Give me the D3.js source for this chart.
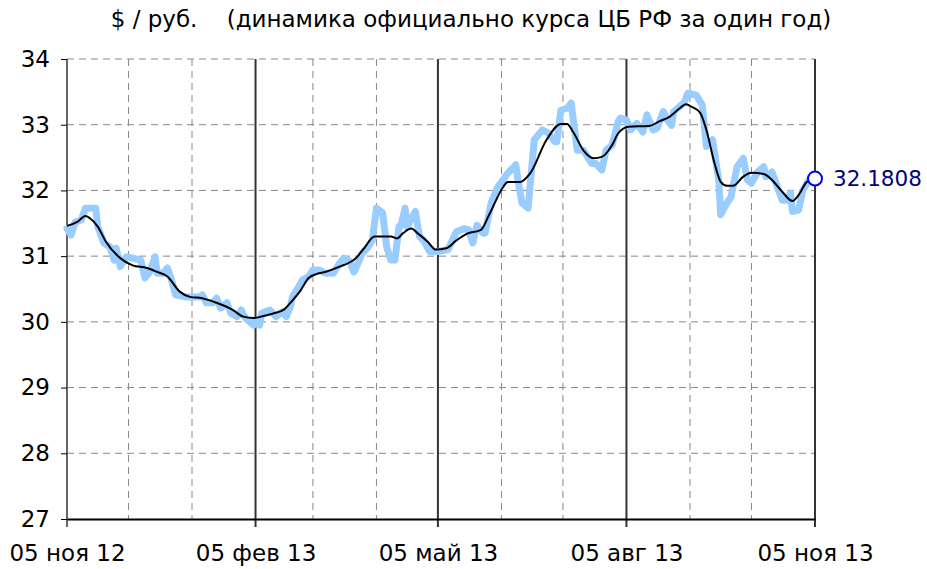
<!DOCTYPE html>
<html>
<head>
    <meta charset="utf-8">
    <style>
        body { margin: 0; background: #fff; }
        text { font-family: "DejaVu Sans", Verdana, sans-serif; }
        .grid line { stroke: #888; stroke-width: 1; stroke-dasharray: 7,5; }
    </style>
</head>
<body>
    <div id="container"></div>
    <script src="https://d3js.org/d3.v7.min.js"></script>
    <script>
        // daily rate
        const rate = [
            ["2012-11-05", 31.42], ["2012-11-07", 31.32], ["2012-11-09", 31.52], ["2012-11-12", 31.55],
            ["2012-11-14", 31.73], ["2012-11-19", 31.73], ["2012-11-20", 31.45], ["2012-11-23", 31.20],
            ["2012-11-26", 31.14], ["2012-11-28", 30.94], ["2012-11-29", 31.12], ["2012-12-01", 30.84],
            ["2012-12-04", 30.99], ["2012-12-07", 30.97], ["2012-12-11", 30.94], ["2012-12-13", 30.67],
            ["2012-12-15", 30.74], ["2012-12-18", 30.99], ["2012-12-19", 30.74], ["2012-12-22", 30.74],
            ["2012-12-24", 30.82], ["2012-12-26", 30.64], ["2012-12-28", 30.41], ["2013-01-02", 30.38],
            ["2013-01-09", 30.38], ["2013-01-10", 30.41], ["2013-01-12", 30.29], ["2013-01-15", 30.29],
            ["2013-01-17", 30.36], ["2013-01-19", 30.21], ["2013-01-22", 30.29], ["2013-01-24", 30.13],
            ["2013-01-27", 30.08], ["2013-01-29", 30.18], ["2013-01-31", 30.06], ["2013-02-04", 29.95],
            ["2013-02-05", 30.02], ["2013-02-07", 29.95], ["2013-02-08", 30.13], ["2013-02-12", 30.18],
            ["2013-02-15", 30.08], ["2013-02-18", 30.15], ["2013-02-20", 30.08], ["2013-02-22", 30.23],
            ["2013-02-23", 30.38], ["2013-02-26", 30.53], ["2013-02-28", 30.64], ["2013-03-03", 30.69],
            ["2013-03-05", 30.79], ["2013-03-08", 30.79], ["2013-03-11", 30.74], ["2013-03-15", 30.74],
            ["2013-03-18", 30.89], ["2013-03-20", 30.97], ["2013-03-23", 30.92], ["2013-03-25", 30.76],
            ["2013-03-27", 30.89], ["2013-03-29", 31.04], ["2013-04-01", 31.14], ["2013-04-03", 31.24],
            ["2013-04-05", 31.73], ["2013-04-08", 31.66], ["2013-04-10", 31.14], ["2013-04-12", 30.94],
            ["2013-04-14", 30.94], ["2013-04-16", 31.45], ["2013-04-17", 31.47], ["2013-04-19", 31.73],
            ["2013-04-20", 31.45], ["2013-04-24", 31.68], ["2013-04-26", 31.30], ["2013-04-28", 31.24],
            ["2013-05-01", 31.07], ["2013-05-05", 31.07], ["2013-05-10", 31.10], ["2013-05-14", 31.37],
            ["2013-05-18", 31.42], ["2013-05-20", 31.40], ["2013-05-22", 31.20], ["2013-05-24", 31.47],
            ["2013-05-27", 31.35], ["2013-05-28", 31.35], ["2013-05-31", 31.81], ["2013-06-03", 32.04],
            ["2013-06-08", 32.26], ["2013-06-12", 32.39], ["2013-06-13", 32.16], ["2013-06-15", 31.81],
            ["2013-06-18", 31.73], ["2013-06-21", 32.77], ["2013-06-25", 32.92], ["2013-06-28", 32.87],
            ["2013-07-01", 32.74], ["2013-07-02", 32.74], ["2013-07-04", 33.22], ["2013-07-07", 33.25],
            ["2013-07-09", 33.33], ["2013-07-12", 32.61], ["2013-07-15", 32.61], ["2013-07-19", 32.41],
            ["2013-07-21", 32.41], ["2013-07-24", 32.31], ["2013-07-26", 32.61], ["2013-07-29", 32.69],
            ["2013-08-01", 33.05], ["2013-08-02", 33.10], ["2013-08-05", 33.07], ["2013-08-07", 32.92],
            ["2013-08-10", 33.02], ["2013-08-13", 32.89], ["2013-08-15", 33.15], ["2013-08-18", 32.92],
            ["2013-08-20", 32.95], ["2013-08-23", 33.20], ["2013-08-25", 33.07], ["2013-08-27", 32.99],
            ["2013-08-28", 33.20], ["2013-09-02", 33.33], ["2013-09-04", 33.48], ["2013-09-08", 33.45],
            ["2013-09-11", 33.30], ["2013-09-13", 32.67], ["2013-09-16", 32.77], ["2013-09-19", 32.16],
            ["2013-09-20", 31.63], ["2013-09-23", 31.81], ["2013-09-25", 31.90], ["2013-09-28", 32.36],
            ["2013-10-01", 32.49], ["2013-10-03", 32.16], ["2013-10-05", 32.11], ["2013-10-08", 32.28],
            ["2013-10-11", 32.36], ["2013-10-12", 32.21], ["2013-10-15", 32.28], ["2013-10-17", 32.11],
            ["2013-10-20", 31.85], ["2013-10-22", 31.85], ["2013-10-24", 31.96], ["2013-10-25", 31.68],
            ["2013-10-28", 31.70], ["2013-10-30", 32.00], ["2013-11-02", 32.16], ["2013-11-05", 32.1808]
        ];

        // smoothed line (black)
        const trend = [
            ["2012-11-05", 31.46], ["2012-11-10", 31.52], ["2012-11-14", 31.61], ["2012-11-16", 31.58],
            ["2012-11-20", 31.45], ["2012-11-24", 31.22], ["2012-12-01", 30.97], ["2012-12-07", 30.86],
            ["2012-12-14", 30.82], ["2012-12-19", 30.76], ["2012-12-24", 30.69], ["2012-12-30", 30.46],
            ["2013-01-04", 30.38], ["2013-01-10", 30.36], ["2013-01-17", 30.29], ["2013-01-25", 30.18],
            ["2013-01-30", 30.08], ["2013-02-04", 30.06], ["2013-02-09", 30.09], ["2013-02-14", 30.13],
            ["2013-02-19", 30.19], ["2013-02-22", 30.29], ["2013-02-27", 30.48], ["2013-03-03", 30.67],
            ["2013-03-07", 30.73], ["2013-03-11", 30.76], ["2013-03-18", 30.84], ["2013-03-26", 30.97],
            ["2013-03-30", 31.12], ["2013-04-04", 31.30], ["2013-04-12", 31.30], ["2013-04-15", 31.27],
            ["2013-04-18", 31.35], ["2013-04-22", 31.42], ["2013-04-25", 31.35], ["2013-04-30", 31.22],
            ["2013-05-04", 31.10], ["2013-05-09", 31.12], ["2013-05-14", 31.24], ["2013-05-19", 31.34],
            ["2013-05-26", 31.40], ["2013-05-30", 31.63], ["2013-06-06", 32.06], ["2013-06-08", 32.13],
            ["2013-06-14", 32.13], ["2013-06-19", 32.26], ["2013-06-27", 32.77], ["2013-07-04", 33.01],
            ["2013-07-07", 33.01], ["2013-07-10", 32.89], ["2013-07-15", 32.61], ["2013-07-20", 32.49],
            ["2013-07-24", 32.51], ["2013-07-29", 32.69], ["2013-08-01", 32.87], ["2013-08-06", 32.97],
            ["2013-08-16", 32.98], ["2013-08-21", 33.05], ["2013-08-26", 33.12], ["2013-08-31", 33.25],
            ["2013-09-03", 33.31], ["2013-09-06", 33.27], ["2013-09-10", 33.18], ["2013-09-13", 32.92],
            ["2013-09-17", 32.41], ["2013-09-20", 32.13], ["2013-09-23", 32.07], ["2013-09-26", 32.07],
            ["2013-10-01", 32.21], ["2013-10-05", 32.27], ["2013-10-11", 32.25], ["2013-10-15", 32.16],
            ["2013-10-20", 31.98], ["2013-10-25", 31.84], ["2013-10-28", 31.93], ["2013-11-01", 32.13],
            ["2013-11-05", 32.18]
        ];

        const yTicks = [27, 28, 29, 30, 31, 32, 33, 34];
        const majorDates = ["2012-11-05", "2013-02-05", "2013-05-05", "2013-08-05", "2013-11-05"];
        const minorDates = ["2012-12-05", "2013-01-05", "2013-03-05", "2013-04-05",
                            "2013-06-05", "2013-07-05", "2013-09-05", "2013-10-05"];
        const monthNames = ["янв", "фев", "мар", "апр", "май", "июн", "июл", "авг", "сен", "окт", "ноя", "дек"];
        const title = "$ / руб.    (динамика официально курса ЦБ РФ за один год)";

        const width = 927, height = 569;
        const margin = { top: 59, right: 112, bottom: 50, left: 67 };
        const fontSize = 23;
        const parse = d3.timeParse("%Y-%m-%d");

        const x = d3.scaleTime()
            .domain([parse(majorDates[0]), parse(majorDates[majorDates.length - 1])])
            .range([margin.left, width - margin.right]);
        const y = d3.scaleLinear()
            .domain([27, 34])
            .range([height - margin.bottom, margin.top]);

        const svg = d3.select("#container").append("svg")
            .attr("width", width)
            .attr("height", height);

        svg.append("text")
            .attr("x", 471)
            .attr("y", 27)
            .attr("text-anchor", "middle")
            .attr("font-size", fontSize)
            .attr("fill", "#000")
            .style("white-space", "pre")
            .text(title);

        // dashed grid
        const grid = svg.append("g").attr("class", "grid");
        grid.selectAll("line.h")
            .data(yTicks.slice(1))
            .join("line")
            .attr("class", "h")
            .attr("x1", margin.left).attr("x2", width - margin.right)
            .attr("y1", d => y(d)).attr("y2", d => y(d));
        grid.selectAll("line.v")
            .data(minorDates)
            .join("line")
            .attr("class", "v")
            .attr("x1", d => x(parse(d))).attr("x2", d => x(parse(d)))
            .attr("y1", margin.top).attr("y2", height - margin.bottom);

        // solid quarter lines
        svg.append("g").selectAll("line")
            .data(majorDates)
            .join("line")
            .attr("x1", d => x(parse(d))).attr("x2", d => x(parse(d)))
            .attr("y1", margin.top).attr("y2", height - margin.bottom + 8)
            .attr("stroke", (d, i) => i === 0 ? "#666" : "#333")
            .attr("stroke-width", 2);

        // y axis
        const yAxis = svg.append("g")
            .attr("transform", `translate(${margin.left},0)`)
            .call(d3.axisLeft(y).tickValues(yTicks).tickSize(6).tickPadding(11).tickFormat(d3.format("d")));
        yAxis.select(".domain").remove();
        yAxis.selectAll(".tick line").attr("stroke", "#000");
        yAxis.selectAll(".tick text")
            .attr("font-size", fontSize)
            .attr("font-family", "DejaVu Sans, Verdana, sans-serif")
            .attr("fill", "#000");

        // x axis
        const xAxis = svg.append("g")
            .attr("transform", `translate(0,${height - margin.bottom})`)
            .call(d3.axisBottom(x)
                .tickValues(majorDates.map(parse))
                .tickSize(0)
                .tickPadding(26)
                .tickFormat(d => d3.timeFormat("%d")(d) + " " + monthNames[d.getMonth()] + " " + d3.timeFormat("%y")(d)));
        xAxis.select(".domain").attr("stroke", "#000").attr("stroke-width", 2);
        xAxis.selectAll(".tick text")
            .attr("font-size", fontSize)
            .attr("font-family", "DejaVu Sans, Verdana, sans-serif")
            .attr("fill", "#000");

        const line = d3.line()
            .x(d => x(parse(d[0])))
            .y(d => y(d[1]));

        svg.append("path")
            .datum(rate)
            .attr("fill", "none")
            .attr("stroke", "#99ccff")
            .attr("stroke-width", 7)
            .attr("stroke-linejoin", "round")
            .attr("stroke-linecap", "round")
            .attr("d", line);

        svg.append("path")
            .datum(trend)
            .attr("fill", "none")
            .attr("stroke", "#000")
            .attr("stroke-width", 2)
            .attr("stroke-linejoin", "round")
            .attr("d", line.curve(d3.curveMonotoneX));

        const last = rate[rate.length - 1];
        svg.append("circle")
            .attr("cx", x(parse(last[0])))
            .attr("cy", y(last[1]))
            .attr("r", 7)
            .attr("fill", "#fff")
            .attr("stroke", "#0000ff")
            .attr("stroke-width", 2);

        svg.append("text")
            .attr("x", x(parse(last[0])) + 18)
            .attr("y", y(last[1]))
            .attr("dy", "0.35em")
            .attr("font-size", 21.5)
            .attr("fill", "#000080")
            .text(last[1].toFixed(4));
    </script>
</body>
</html>
